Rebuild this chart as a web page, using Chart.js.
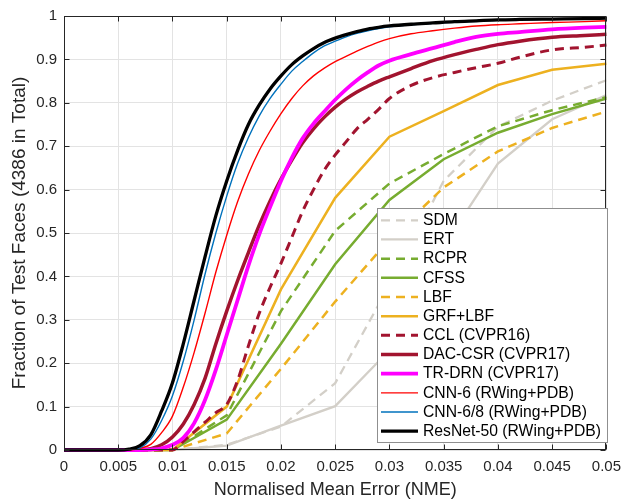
<!DOCTYPE html>
<html>
<head>
<meta charset="utf-8">
<script src="https://cdn.jsdelivr.net/npm/chart.js@4.4.1/dist/chart.umd.min.js"></script>
<style>
  html, body { margin: 0; padding: 0; background: #fff; }
</style>
</head>
<body>
<canvas id="nmeChart" width="629" height="501"></canvas>
<script>
// x positions (NME) of the sampled points
const xKnots = [0, 0.005, 0.01, 0.015, 0.02, 0.025, 0.03, 0.035, 0.04, 0.045, 0.05];
const xFine = [0, 0.005, 0.006, 0.007, 0.008, 0.009, 0.010, 0.011, 0.012, 0.013, 0.014,
  0.015, 0.016, 0.017, 0.018, 0.019, 0.020, 0.021, 0.022, 0.023, 0.024, 0.025,
  0.026, 0.027, 0.028, 0.029, 0.030, 0.032, 0.034, 0.036, 0.038, 0.040, 0.042,
  0.045, 0.048, 0.050];

// CED values
const sdm = [0, 0, 0, 0.012, 0.054, 0.154, 0.38, 0.62, 0.745, 0.805, 0.852];
const ert = [0, 0, 0, 0.01, 0.056, 0.101, 0.23, 0.47, 0.66, 0.762, 0.818];
const rcpr = [0, 0, 0, 0.08, 0.32, 0.505, 0.614, 0.682, 0.746, 0.783, 0.813];
const cfss = [0, 0, 0, 0.07, 0.245, 0.428, 0.576, 0.67, 0.731, 0.774, 0.81];
const lbf = [0, 0, 0, 0.038, 0.187, 0.342, 0.485, 0.605, 0.688, 0.742, 0.78];
const grfLbf = [0, 0, 0, 0.1, 0.37, 0.581, 0.722, 0.781, 0.841, 0.876, 0.89];

const ccl = [0, 0, 0, 0, 0, 0, 0, 0.02, 0.042, 0.064, 0.086, 0.105, 0.16, 0.24, 0.315,
  0.375, 0.43, 0.49, 0.55, 0.6, 0.645, 0.68, 0.71, 0.74, 0.762, 0.785, 0.81, 0.84,
  0.858, 0.87, 0.881, 0.891, 0.905, 0.922, 0.928, 0.933];
const dacCsr = [0, 0, 0, 0.001, 0.003, 0.012, 0.03, 0.06, 0.105, 0.165, 0.245, 0.32,
  0.39, 0.455, 0.518, 0.574, 0.624, 0.668, 0.708, 0.74, 0.767, 0.79, 0.809, 0.825,
  0.838, 0.85, 0.86, 0.879, 0.897, 0.911, 0.923, 0.934, 0.942, 0.951, 0.955, 0.958];
const trDrn = [0, 0, 0, 0, 0.001, 0.004, 0.012, 0.028, 0.062, 0.115, 0.185, 0.265, 0.345,
  0.425, 0.497, 0.56, 0.62, 0.673, 0.718, 0.752, 0.78, 0.807, 0.831, 0.852, 0.87,
  0.886, 0.897, 0.912, 0.926, 0.94, 0.952, 0.959, 0.963, 0.969, 0.973, 0.975];
const cnn6 = [0, 0, 0, 0.004, 0.013, 0.04, 0.078, 0.145, 0.225, 0.315, 0.41, 0.495, 0.572,
  0.636, 0.69, 0.735, 0.775, 0.81, 0.839, 0.862, 0.88, 0.895, 0.907, 0.919, 0.93,
  0.94, 0.948, 0.959, 0.966, 0.972, 0.977, 0.98, 0.982, 0.985, 0.987, 0.989];
const cnn68 = [0, 0, 0.001, 0.005, 0.025, 0.068, 0.125, 0.205, 0.3, 0.405, 0.5, 0.585,
  0.66, 0.72, 0.77, 0.81, 0.843, 0.873, 0.895, 0.915, 0.931, 0.942, 0.952, 0.96,
  0.966, 0.971, 0.975, 0.98, 0.983, 0.986, 0.988, 0.99, 0.991, 0.993, 0.994, 0.995];
const resnet50 = [0, 0, 0.002, 0.01, 0.035, 0.09, 0.155, 0.245, 0.345, 0.445, 0.54, 0.62,
  0.69, 0.75, 0.795, 0.832, 0.862, 0.888, 0.908, 0.925, 0.939, 0.949, 0.957, 0.964, 0.97,
  0.974, 0.977, 0.981, 0.984, 0.987, 0.989, 0.991, 0.992, 0.993, 0.994, 0.995];

const seriesNames = ['SDM', 'ERT', 'RCPR', 'CFSS', 'LBF', 'GRF+LBF', 'CCL (CVPR16)',
  'DAC-CSR (CVPR17)', 'TR-DRN (CVPR17)', 'CNN-6 (RWing+PDB)', 'CNN-6/8 (RWing+PDB)',
  'ResNet-50 (RWing+PDB)'];

const xTicks = [0, 0.005, 0.01, 0.015, 0.02, 0.025, 0.03, 0.035, 0.04, 0.045, 0.05];
const xTickLabels = ['0', '0.005', '0.01', '0.015', '0.02', '0.025', '0.03', '0.035', '0.04', '0.045', '0.05'];
const yTicks = [0, 0.1, 0.2, 0.3, 0.4, 0.5, 0.6, 0.7, 0.8, 0.9, 1];
const yTickLabels = ['0', '0.1', '0.2', '0.3', '0.4', '0.5', '0.6', '0.7', '0.8', '0.9', '1'];

const FONT = '"Liberation Sans", Arial, Helvetica, sans-serif';
const gray = '#d3cfc8', green = '#77ac30', orange = '#edb120', crimson = '#a2142f';

var toPoints = function (xs, ys) {
    return xs.map((x, i) => ({ x: x, y: ys[i] }));
};

var makeSet = function (i, xs, ys, color, width, dash, smooth) {
    return {
        label: seriesNames[i],
        data: toPoints(xs, ys),
        borderColor: color,
        backgroundColor: color,
        borderWidth: width,
        borderDash: dash,
        pointRadius: 0,
        fill: false,
        tension: 0,
        cubicInterpolationMode: smooth ? 'monotone' : 'default',
        clip: 4,
        // later series on top, like the original figure
        order: seriesNames.length - 1 - i,
    };
};

const datasets = [
    makeSet(0, xKnots, sdm, gray, 2.3, [9, 6], false),
    makeSet(1, xKnots, ert, gray, 2.3, [], false),
    makeSet(2, xKnots, rcpr, green, 2.5, [9, 6], false),
    makeSet(3, xKnots, cfss, green, 2.5, [], false),
    makeSet(4, xKnots, lbf, orange, 2.5, [9, 6], false),
    makeSet(5, xKnots, grfLbf, orange, 2.5, [], false),
    makeSet(6, xFine, ccl, crimson, 3, [9, 6], true),
    makeSet(7, xFine, dacCsr, crimson, 3.5, [], true),
    makeSet(8, xFine, trDrn, '#ff00ff', 3.8, [], true),
    makeSet(9, xFine, cnn6, '#ff0000', 1.4, [], true),
    makeSet(10, xFine, cnn68, '#0072bd', 1.4, [], true),
    makeSet(11, xFine, resnet50, '#000000', 3.3, [], true),
];

// axes box, inward ticks and the legend box
const boxPlugin = {
    id: 'boxPlugin',
    afterDatasetsDraw(chart) {
        const { ctx, chartArea: a, scales } = chart;
        ctx.save();
        ctx.strokeStyle = '#262626';
        ctx.lineWidth = 1;
        ctx.setLineDash([]);
        const L = Math.round(a.left) + 0.5, R = Math.round(a.right) - 0.5;
        const T = Math.round(a.top) + 0.5, B = Math.round(a.bottom) - 0.5;
        ctx.strokeRect(L, T, R - L, B - T);
        const len = 5;
        ctx.beginPath();
        xTicks.forEach(v => {
            const p = Math.round(scales.x.getPixelForValue(v)) + 0.5;
            ctx.moveTo(p, B); ctx.lineTo(p, B - len);
            ctx.moveTo(p, T); ctx.lineTo(p, T + len);
        });
        yTicks.forEach(v => {
            const p = Math.round(scales.y.getPixelForValue(v)) + 0.5;
            ctx.moveTo(L, p); ctx.lineTo(L + len, p);
            ctx.moveTo(R, p); ctx.lineTo(R - len, p);
        });
        ctx.stroke();
        ctx.restore();
    },
    afterDraw(chart) {
        const ctx = chart.ctx;
        const bx = 377.5, by = 208.5, bw = 230, bh = 234, rowH = 19.17;
        ctx.save();
        ctx.fillStyle = '#ffffff';
        ctx.fillRect(bx, by, bw, bh);
        ctx.strokeStyle = '#8f8f8f';
        ctx.lineWidth = 1;
        ctx.strokeRect(bx, by, bw, bh);
        ctx.font = '15.7px ' + FONT;
        ctx.textBaseline = 'middle';
        ctx.textAlign = 'left';
        datasets.forEach((ds, i) => {
            const y = by + 11.8 + i * rowH;
            ctx.beginPath();
            ctx.strokeStyle = ds.borderColor;
            ctx.lineWidth = ds.borderWidth;
            ctx.setLineDash(ds.borderDash);
            ctx.moveTo(381, y);
            ctx.lineTo(418, y);
            ctx.stroke();
            ctx.setLineDash([]);
            ctx.fillStyle = '#000000';
            ctx.fillText(ds.label, 423, y + 0.5);
        });
        ctx.restore();
    }
};

const ctx = document.getElementById('nmeChart');
var nmeChart = new Chart(ctx, {
    type: 'line',
    data: { datasets: datasets },
    plugins: [boxPlugin],
    options: {
        responsive: false,
        animation: false,
        devicePixelRatio: 1,
        layout: { padding: { top: 16, right: 15, left: 0, bottom: 0 } },
        plugins: {
            legend: { display: false },
            tooltip: { enabled: false },
        },
        scales: {
            x: {
                type: 'linear',
                min: 0,
                max: 0.05,
                afterBuildTicks: s => { s.ticks = xTicks.map(v => ({ value: v })); },
                afterFit: s => { s.height = 51; },
                ticks: {
                    callback: (v, i) => xTickLabels[i],
                    font: { family: FONT, size: 15 },
                    color: '#262626',
                    padding: 8,
                    maxRotation: 0,
                    autoSkip: false,
                },
                grid: { color: '#e3e3e3', drawTicks: false },
                border: { display: false },
                title: {
                    display: true,
                    text: 'Normalised Mean Error (NME)',
                    font: { family: FONT, size: 18 },
                    color: '#262626',
                    padding: { top: 0, bottom: 0 },
                },
            },
            y: {
                type: 'linear',
                min: 0,
                max: 1,
                afterBuildTicks: s => { s.ticks = yTicks.map(v => ({ value: v })); },
                afterFit: s => { s.width = 64; },
                ticks: {
                    callback: (v, i) => yTickLabels[i],
                    font: { family: FONT, size: 15 },
                    color: '#262626',
                    padding: 7,
                    autoSkip: false,
                },
                grid: { color: '#e3e3e3', drawTicks: false },
                border: { display: false },
                title: {
                    display: true,
                    text: 'Fraction of Test Faces (4386 in Total)',
                    font: { family: FONT, size: 19 },
                    color: '#262626',
                    padding: { top: 8, bottom: 0 },
                },
            },
        },
    },
});
</script>
</body>
</html>
